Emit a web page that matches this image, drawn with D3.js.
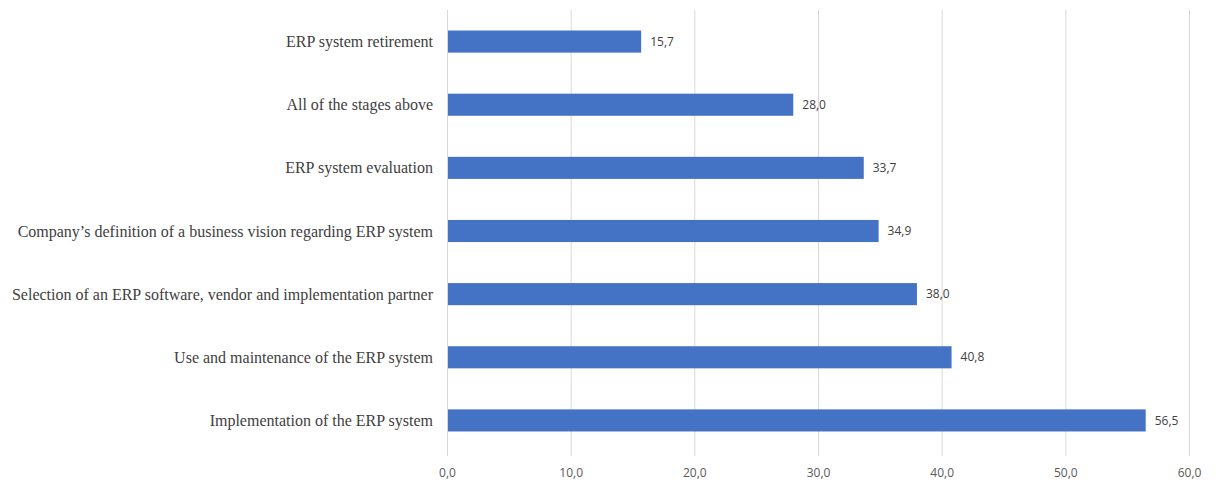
<!DOCTYPE html>
<html>
<head>
<meta charset="utf-8">
<script src="https://cdn.jsdelivr.net/npm/d3@7"></script>
<style>
  body { margin: 0; background: #fff; }
</style>
</head>
<body>
<div id="chart"></div>
<script>
// chart data, top to bottom
var stages = [
    "ERP system retirement",
    "All of the stages above",
    "ERP system evaluation",
    "Company\u2019s definition of a business vision regarding ERP system",
    "Selection of an ERP software, vendor and implementation partner",
    "Use and maintenance of the ERP system",
    "Implementation of the ERP system"
]
var shares = [15.7, 28.0, 33.7, 34.9, 38.0, 40.8, 56.5]
var xTicks = [0, 10, 20, 30, 40, 50, 60]

var width = 1218, height = 484
var margin = {top: 10, right: 29, bottom: 32, left: 447}
var w = width - margin.left - margin.right
var h = height - margin.top - margin.bottom

var svg = d3.select("#chart").append("svg")
    .attr("width", width).attr("height", height)
var g = svg.append("g").attr("transform", "translate(" + margin.left + "," + margin.top + ")")

var x = d3.scaleLinear().domain([0, 60]).range([0, w])
var y = d3.scaleBand().domain(stages).range([0, h]).paddingInner(0.65).paddingOuter(0.325)

var fmt = function(v) { return d3.format(".1f")(v).replace(".", ",") }

// gridlines
g.append("g").selectAll("line")
    .data(xTicks).enter().append("line")
    .attr("x1", function(d) { return x(d) + 0.5 })
    .attr("x2", function(d) { return x(d) + 0.5 })
    .attr("y1", 0).attr("y2", h + 4)
    .attr("stroke", "#d9d9d9").attr("stroke-width", 1)

// bars
g.append("g").selectAll("rect")
    .data(shares).enter().append("rect")
    .attr("x", x(0) + 1)
    .attr("y", function(d, i) { return y(stages[i]) })
    .attr("width", function(d) { return x(d) - x(0) - 1 })
    .attr("height", y.bandwidth())
    .attr("fill", "#4472c4")

// value labels
g.append("g").selectAll("text")
    .data(shares).enter().append("text")
    .attr("x", function(d) { return x(d) + 9 })
    .attr("y", function(d, i) { return y(stages[i]) + y.bandwidth() / 2 })
    .attr("dy", "0.35em")
    .style("font-family", "'Open Sans', sans-serif")
    .style("font-size", "12px")
    .attr("fill", "#404040")
    .text(fmt)

// category labels (left)
g.append("g").selectAll("text")
    .data(stages).enter().append("text")
    .attr("x", -14)
    .attr("y", function(d) { return y(d) + y.bandwidth() / 2 })
    .attr("dy", "0.35em")
    .attr("text-anchor", "end")
    .style("font-family", "'Liberation Serif', serif")
    .style("font-size", "16px")
    .attr("fill", "#404040")
    .text(function(d) { return d })

// x axis tick labels
var xAxis = g.append("g")
    .attr("transform", "translate(0," + (h + 4) + ")")
    .call(d3.axisBottom(x).tickValues(xTicks).tickSize(0).tickPadding(12).tickFormat(fmt))
xAxis.select(".domain").remove()
xAxis.selectAll("text")
    .style("font-family", "'Open Sans', sans-serif")
    .style("font-size", "12px")
    .attr("fill", "#595959")
</script>
</body>
</html>
